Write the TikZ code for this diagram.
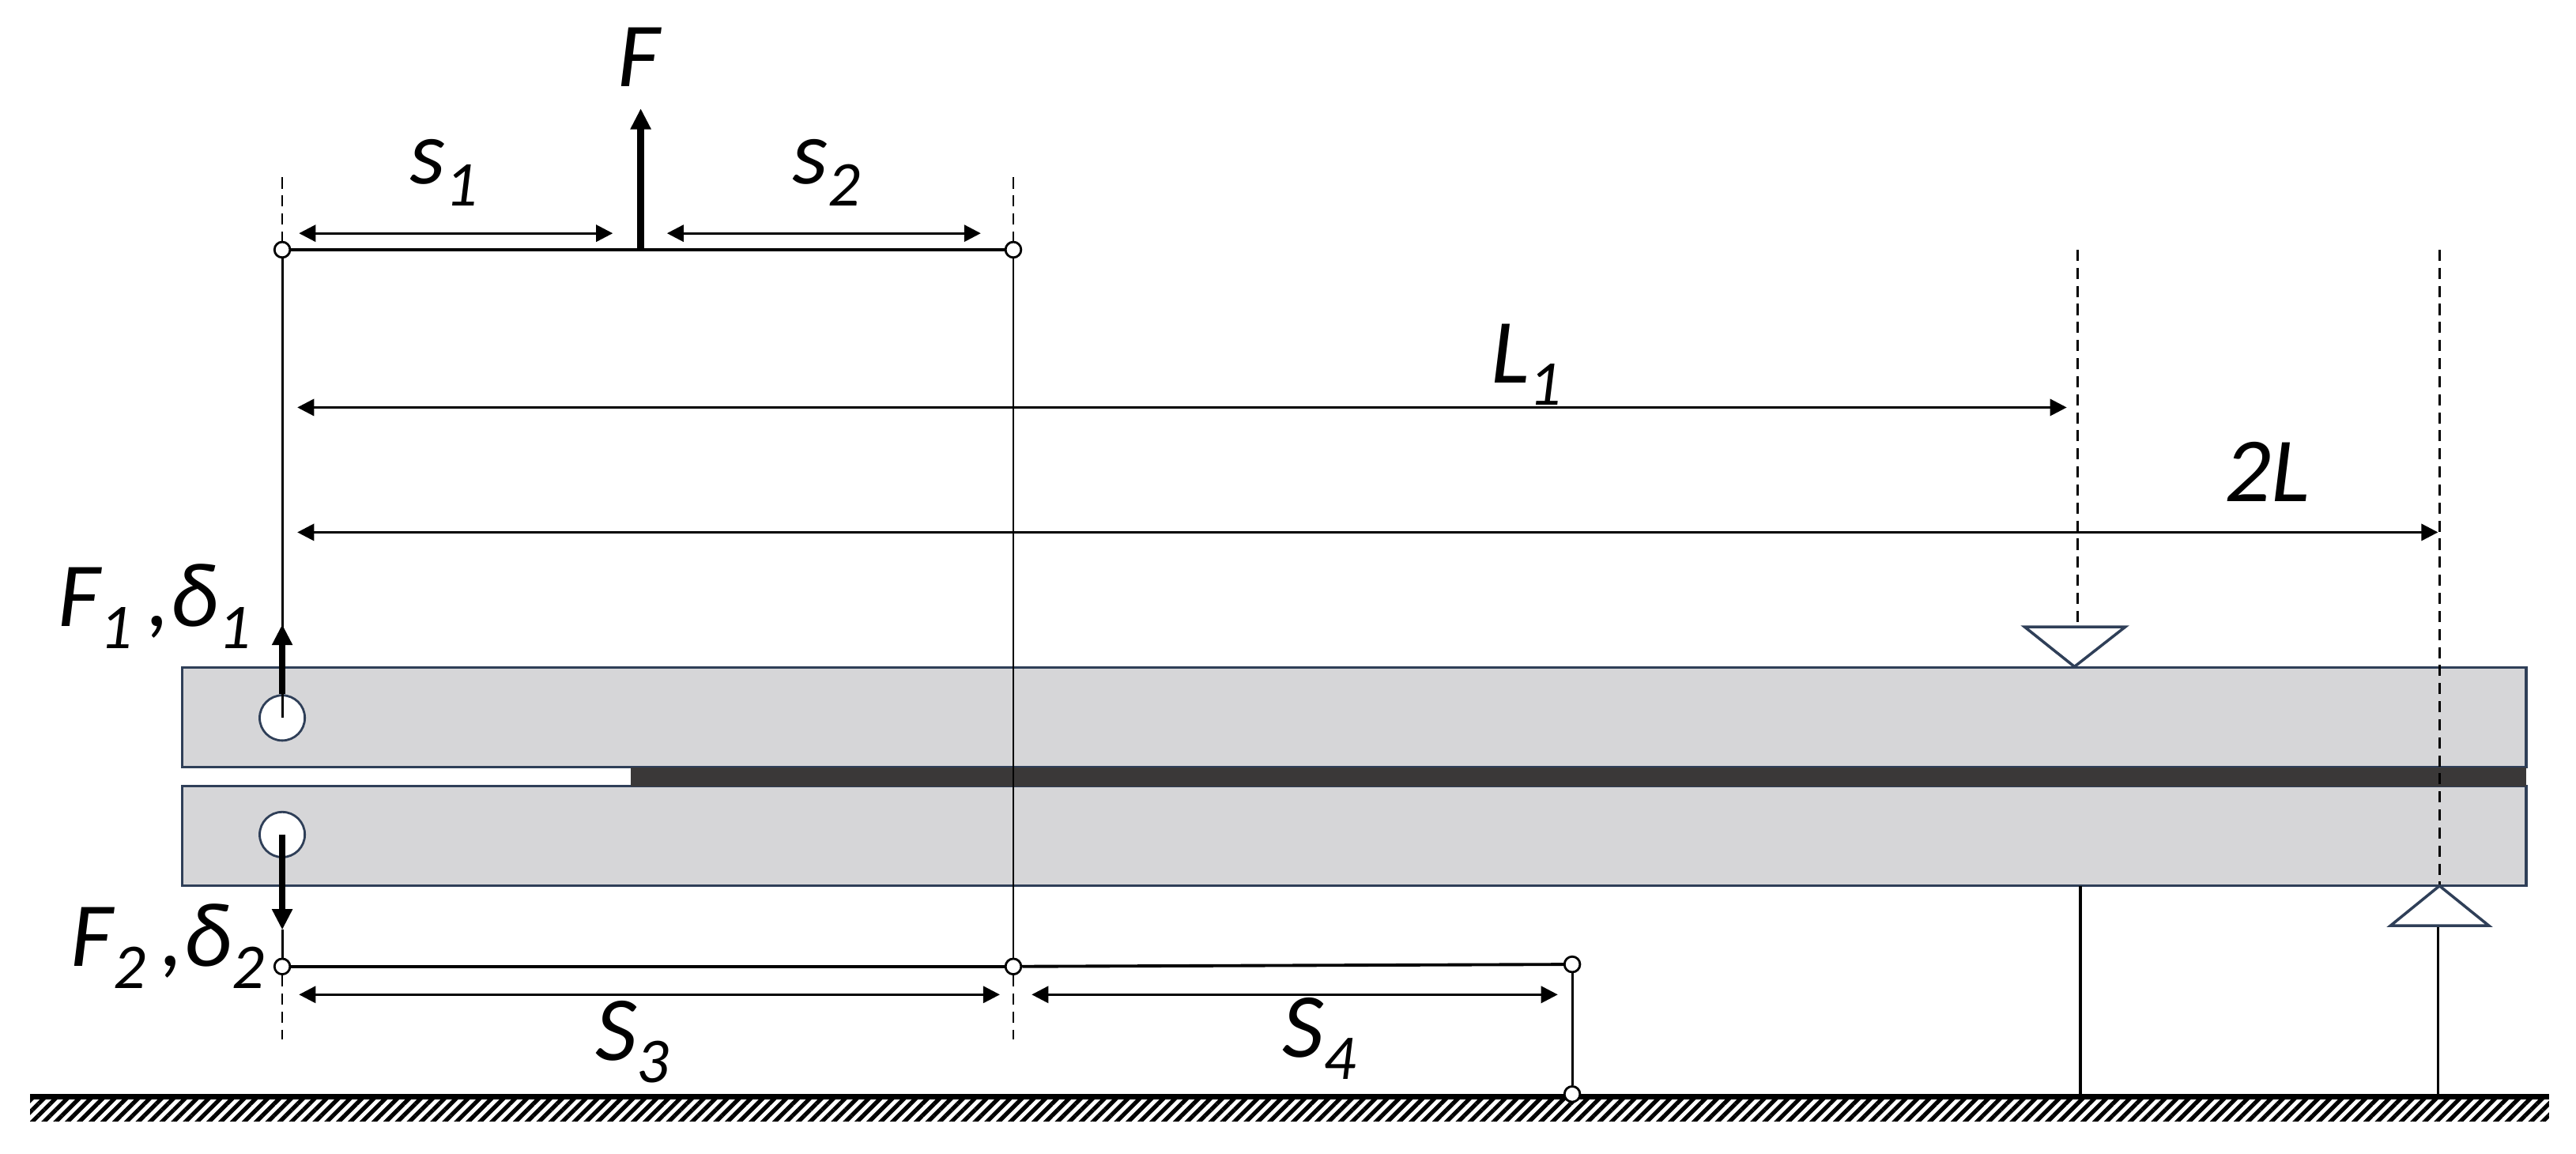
\documentclass[tikz,border=0pt]{standalone}
\usepackage{fontspec}
\setmainfont{Carlito}
\usetikzlibrary{arrows.meta,patterns.meta}
\definecolor{beamline}{HTML}{2F3F58}
\definecolor{beamfill}{HTML}{D6D6D8}
\definecolor{glue}{HTML}{3A3838}
\newcommand{\lowsub}[1]{\raisebox{-8pt}{\fontsize{23}{23}\selectfont #1}}
\tikzset{
  pin/.style={draw,fill=white,circle,minimum size=5.6pt,inner sep=0pt,line width=.8pt},
  hole/.style={draw=beamline,fill=white,circle,minimum size=27.5*0.20785mm,inner sep=0pt,line width=.8pt},
  lab/.style={inner sep=0pt,font=\fontsize{33}{36}\selectfont\itshape},
  beam/.style={draw=beamline,fill=beamfill,line width=.9pt},
  bar/.style={line width=1.1pt},
  wire/.style={line width=.85pt},
  guide/.style={line width=.7pt,dash pattern=on 4pt off 2.5pt},
  dim/.style={line width=.9pt,{Triangle[length=6pt,width=6pt]}-{Triangle[length=6pt,width=6pt]}},
  load/.style={line width=2.5pt,-{Triangle[length=7.5pt,width=7pt]}},
  rest/.style={draw=beamline,fill=white,line width=1pt,line join=miter},
}
\begin{document}
\begin{tikzpicture}[x=0.20785mm,y=-0.20785mm]
\useasboundingbox (0,0) rectangle (1568,702.43);
% ground
\fill[pattern={Lines[angle=45,distance=3pt,line width=1.5pt]}] (18.4,669) rectangle (1551.5,682.6);
\coordinate (gl) at (18.4,667.5);
\coordinate (gr) at (1551.5,667.5);
\draw[line width=2pt] (gl) -- (gr);
% beams
\draw[beam] (111,406.3) rectangle (1537.7,467);
\draw[beam] (111,478.6) rectangle (1537.7,539.2);
\fill[glue] (384,467) rectangle (1537.7,478.6);
% loading pins
\node [hole] (h1) at (171.8,437) {};
\node [hole] (h2) at (171.8,508) {};
\node [pin] (p1) at (171.8,152) {};
\node [pin] (p2) at (616.8,152) {};
\node [pin] (p3) at (171.8,588.3) {};
\node [pin] (p4) at (616.8,588.3) {};
\node [pin] (p5) at (957,587) {};
\node [pin] (p6) at (957,666) {};
\coordinate (f0) at (390,152);
\coordinate (f1) at (390,66);
\coordinate (t1) at (171.8,380);
\coordinate (t2) at (171.8,566);
\coordinate (g1) at (171.8,108);
\coordinate (g2) at (616.8,108);
\coordinate (g3) at (171.8,632.5);
\coordinate (g4) at (616.8,632.5);
\coordinate (g5) at (1264.6,152);
\coordinate (g6) at (1264.6,381.6);
\coordinate (g7) at (1485,152);
\coordinate (g8) at (1485,539.2);
\coordinate (c1) at (1266.5,539.2);
\coordinate (c2) at (1266.5,666);
\coordinate (c3) at (1484,563.5);
\coordinate (c4) at (1484,666);
% rods and beams of the fixture
\draw[bar] (p1) -- (p2);
\draw[bar] (p3) -- (p4);
\draw[bar] (p4) -- (p5);
\draw[wire] (p2) -- (p4);
\draw[wire] (p1) -- (h1.center);
\draw[wire] (t2) -- (p3);
\draw[wire] (p5) -- (p6);
\draw[bar] (c1) -- (c2);
\draw[bar] (c3) -- (c4);
% guides
\draw[guide] (g1) -- (p1);
\draw[guide] (g2) -- (p2);
\draw[guide] (p3) -- (g3);
\draw[guide] (p4) -- (g4);
\draw[guide] (g5) -- (g6);
\draw[guide] (g7) -- (g8);
% supports
\draw[rest] (1232.4,381.6) -- (1293.6,381.6) -- (1262.7,405.8) -- cycle;
\draw[rest] (1455,563.5) -- (1515,563.5) -- (1484.9,539.2) -- cycle;
% forces
\draw[load] (f0) -- (f1);
\draw[load] (h1.north) -- (t1);
\draw[load] (h2.center) -- (t2);
% dimensions
\coordinate (d1a) at (182,142);
\coordinate (d1b) at (373,142);
\coordinate (d2a) at (406,142);
\coordinate (d2b) at (597,142);
\coordinate (d3a) at (181,248);
\coordinate (d3b) at (1258,248);
\coordinate (d4a) at (181,324);
\coordinate (d4b) at (1484,324);
\coordinate (d5a) at (182,605.4);
\coordinate (d5b) at (608.6,605.4);
\coordinate (d6a) at (628,605.4);
\coordinate (d6b) at (948.2,605.4);
\draw[dim] (d1a) -- (d1b);
\draw[dim] (d2a) -- (d2b);
\draw[dim] (d3a) -- (d3b);
\draw[dim] (d4a) -- (d4b);
\draw[dim] (d5a) -- (d5b);
\draw[dim] (d6a) -- (d6b);
% labels
\node [lab] (lf) at (389,35) {F};
\node [lab] (ls1) at (270,105) {s\lowsub{1}};
\node [lab] (ls2) at (503,105) {s\lowsub{2}};
\node [lab] (ll1) at (929,222) {L\lowsub{1}};
\node [lab] (ll2) at (1380,287) {2L};
\node [lab] (lf1) at (94,369) {F\lowsub{1}\,,δ\lowsub{1}};
\node [lab] (lf2) at (102,576) {F\lowsub{2}\,,δ\lowsub{2}};
\node [lab] (ls3) at (385,634) {S\lowsub{3}};
\node [lab] (ls4) at (803,632) {S\lowsub{4}};
\end{tikzpicture}
\end{document}
